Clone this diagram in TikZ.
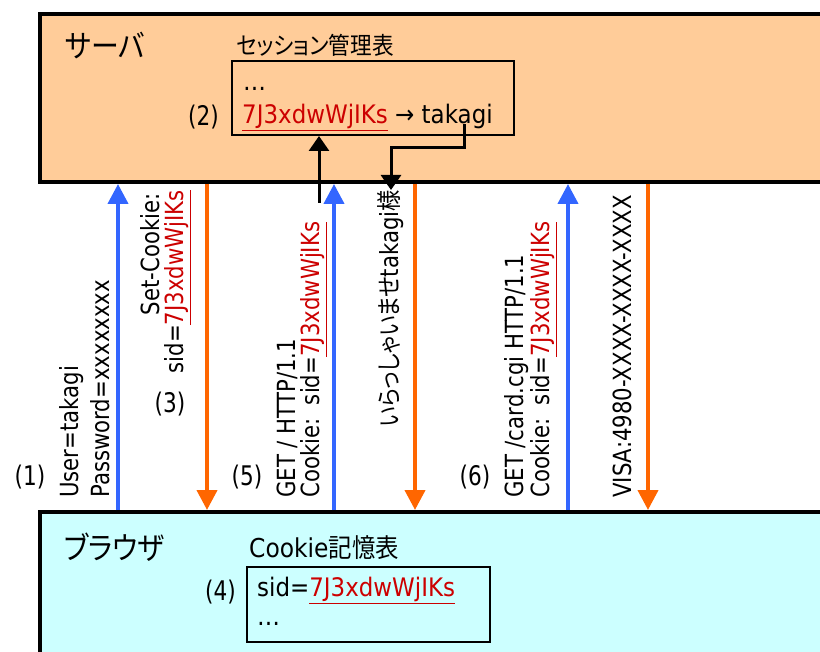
\documentclass[tikz,border=0pt]{standalone}
\usepackage{fontspec}
\setmainfont{DejaVu Sans}
\newfontfamily\jp[RawFeature=+palt]{Noto Sans CJK JP}
\usetikzlibrary{arrows.meta}
\definecolor{srvfill}{HTML}{FFCC99}
\definecolor{brwfill}{HTML}{CCFFFF}
\definecolor{reqblue}{HTML}{3366FF}
\definecolor{resorange}{HTML}{FF6600}
\definecolor{sidred}{HTML}{CC0000}
\newcommand{\sidval}{\textcolor{sidred}{\underline{7J3xdwWjIKs}}}
\newcommand{\hsq}[1]{\scalebox{0.9}[1]{#1}}
\newcommand{\rsq}[1]{\scalebox{0.85}[1]{#1}}
\newcommand{\nsq}[1]{\scalebox{0.8}[1]{#1}}
\begin{document}
\begin{tikzpicture}[x=1pt,y=-1pt,
  rot/.style={rotate=90, inner sep=0pt, font=\fontsize{25}{29}\selectfont},
  startb/.style={rot, anchor=west},
  endt/.style={rot, anchor=east},
  num/.style={inner sep=0pt, font=\fontsize{27}{31}\selectfont},
  big/.style={inner sep=0pt, font=\fontsize{31}{35}\selectfont\jp},
  title/.style={inner sep=0pt, font=\fontsize{24}{28}\selectfont},
  cell/.style={inner sep=0pt, anchor=west, font=\fontsize{25.5}{29}\selectfont},
  area/.style={draw, line width=4pt, anchor=north west, minimum width=820pt, inner sep=0pt},
  table/.style={draw, line width=2pt, anchor=north west, inner sep=0pt},
  req/.style={draw=reqblue, line width=4pt, -{Triangle[width=20pt,length=20pt]}},
  res/.style={draw=resorange, line width=4pt, -{Triangle[width=20pt,length=20pt]}},
  blk/.style={draw=black, line width=3pt, -{Triangle[width=20pt,length=15pt]}}
]
\useasboundingbox (0,0) rectangle (820,652);
\clip (0,0) rectangle (820,652);
\fill[white] (0,0) rectangle (820,652);

% areas
\node[area, fill=srvfill, minimum height=168pt] (srv) at (38,12) {};
\node[area, fill=brwfill, minimum height=160pt] (brw) at (38,510) {};

\node[big] (srvlbl) at (105,46) {\hsq{サーバ}};
\node[big] (brwlbl) at (114,547) {\hsq{ブラウザ}};

% session table
\node[title] (sesst) at (315,45) {\hsq{\jp セッション管理表}};
\node[table, minimum width=282pt, minimum height=74pt] (sess) at (231,60) {};
\node[cell] (sdots) at (243,89) {\hsq{…}};
\node[cell] (srow) at (242,117) {\hsq{\sidval\ → takagi}};
\node[num, anchor=east] (n2) at (219,117) {\nsq{(2)}};

% cookie table
\node[title, font=\fontsize{26}{30}\selectfont] (cookt) at (324,548) {\hsq{Cookie{\jp 記憶表}}};
\node[table, minimum width=243pt, minimum height=75pt] (cook) at (246,566) {};
\node[cell] (crow) at (257,590) {\hsq{sid=\sidval}};
\node[cell] (cdots) at (257,624) {\hsq{…}};
\node[num, anchor=east] (n4) at (236,592) {\nsq{(4)}};

% message labels
\node[num] (n1) at (30,477) {\nsq{(1)}};
\node[startb] (u1) at (72,498) {\rsq{User=takagi}};
\node[startb] (u2) at (100,498) {\rsq{Password=xxxxxxxx}};

\node[endt] (c1) at (150,193) {\rsq{Set-Cookie:}};
\node[endt] (c2) at (178,190) {\rsq{sid=\sidval}};
\node[num] (n3) at (170,404) {\nsq{(3)}};

\node[num] (n5) at (247,477) {\nsq{(5)}};
\node[startb] (g1) at (287,498) {\rsq{GET / HTTP/1.1}};
\node[startb] (g2) at (314,498) {\rsq{Cookie:\ \ sid=\sidval}};

\node[endt] (wel) at (391,190) {\rsq{{\jp いらっしゃいませ}takagi{\jp 様}}};

\node[num] (n6) at (475,477) {\nsq{(6)}};
\node[startb] (k1) at (517,498) {\rsq{GET /card.cgi HTTP/1.1}};
\node[startb] (k2) at (544,498) {\rsq{Cookie:\ \ sid=\sidval}};

\node[startb] (visa) at (622,498) {\rsq{VISA:4980-XXXX-XXXX-XXXX}};

% message arrows
\coordinate (x1) at (118,0);
\coordinate (x2) at (207,0);
\coordinate (x3) at (334,0);
\coordinate (x4) at (415,0);
\coordinate (x5) at (568,0);
\coordinate (x6) at (648,0);
\draw[req] (brw.north -| x1) -- (srv.south -| x1);
\draw[res] (srv.south -| x2) -- (brw.north -| x2);
\draw[req] (brw.north -| x3) -- (srv.south -| x3);
\draw[res] (srv.south -| x4) -- (brw.north -| x4);
\draw[req] (brw.north -| x5) -- (srv.south -| x5);
\draw[res] (srv.south -| x6) -- (brw.north -| x6);

% lookup arrows
\coordinate (bu) at (319,203);
\draw[blk] (bu) -- (bu |- sess.south);
\coordinate (bd) at (464,124);
\draw[blk] (bd) -- ++(0,24) -| (wel.east);
\end{tikzpicture}
\end{document}
